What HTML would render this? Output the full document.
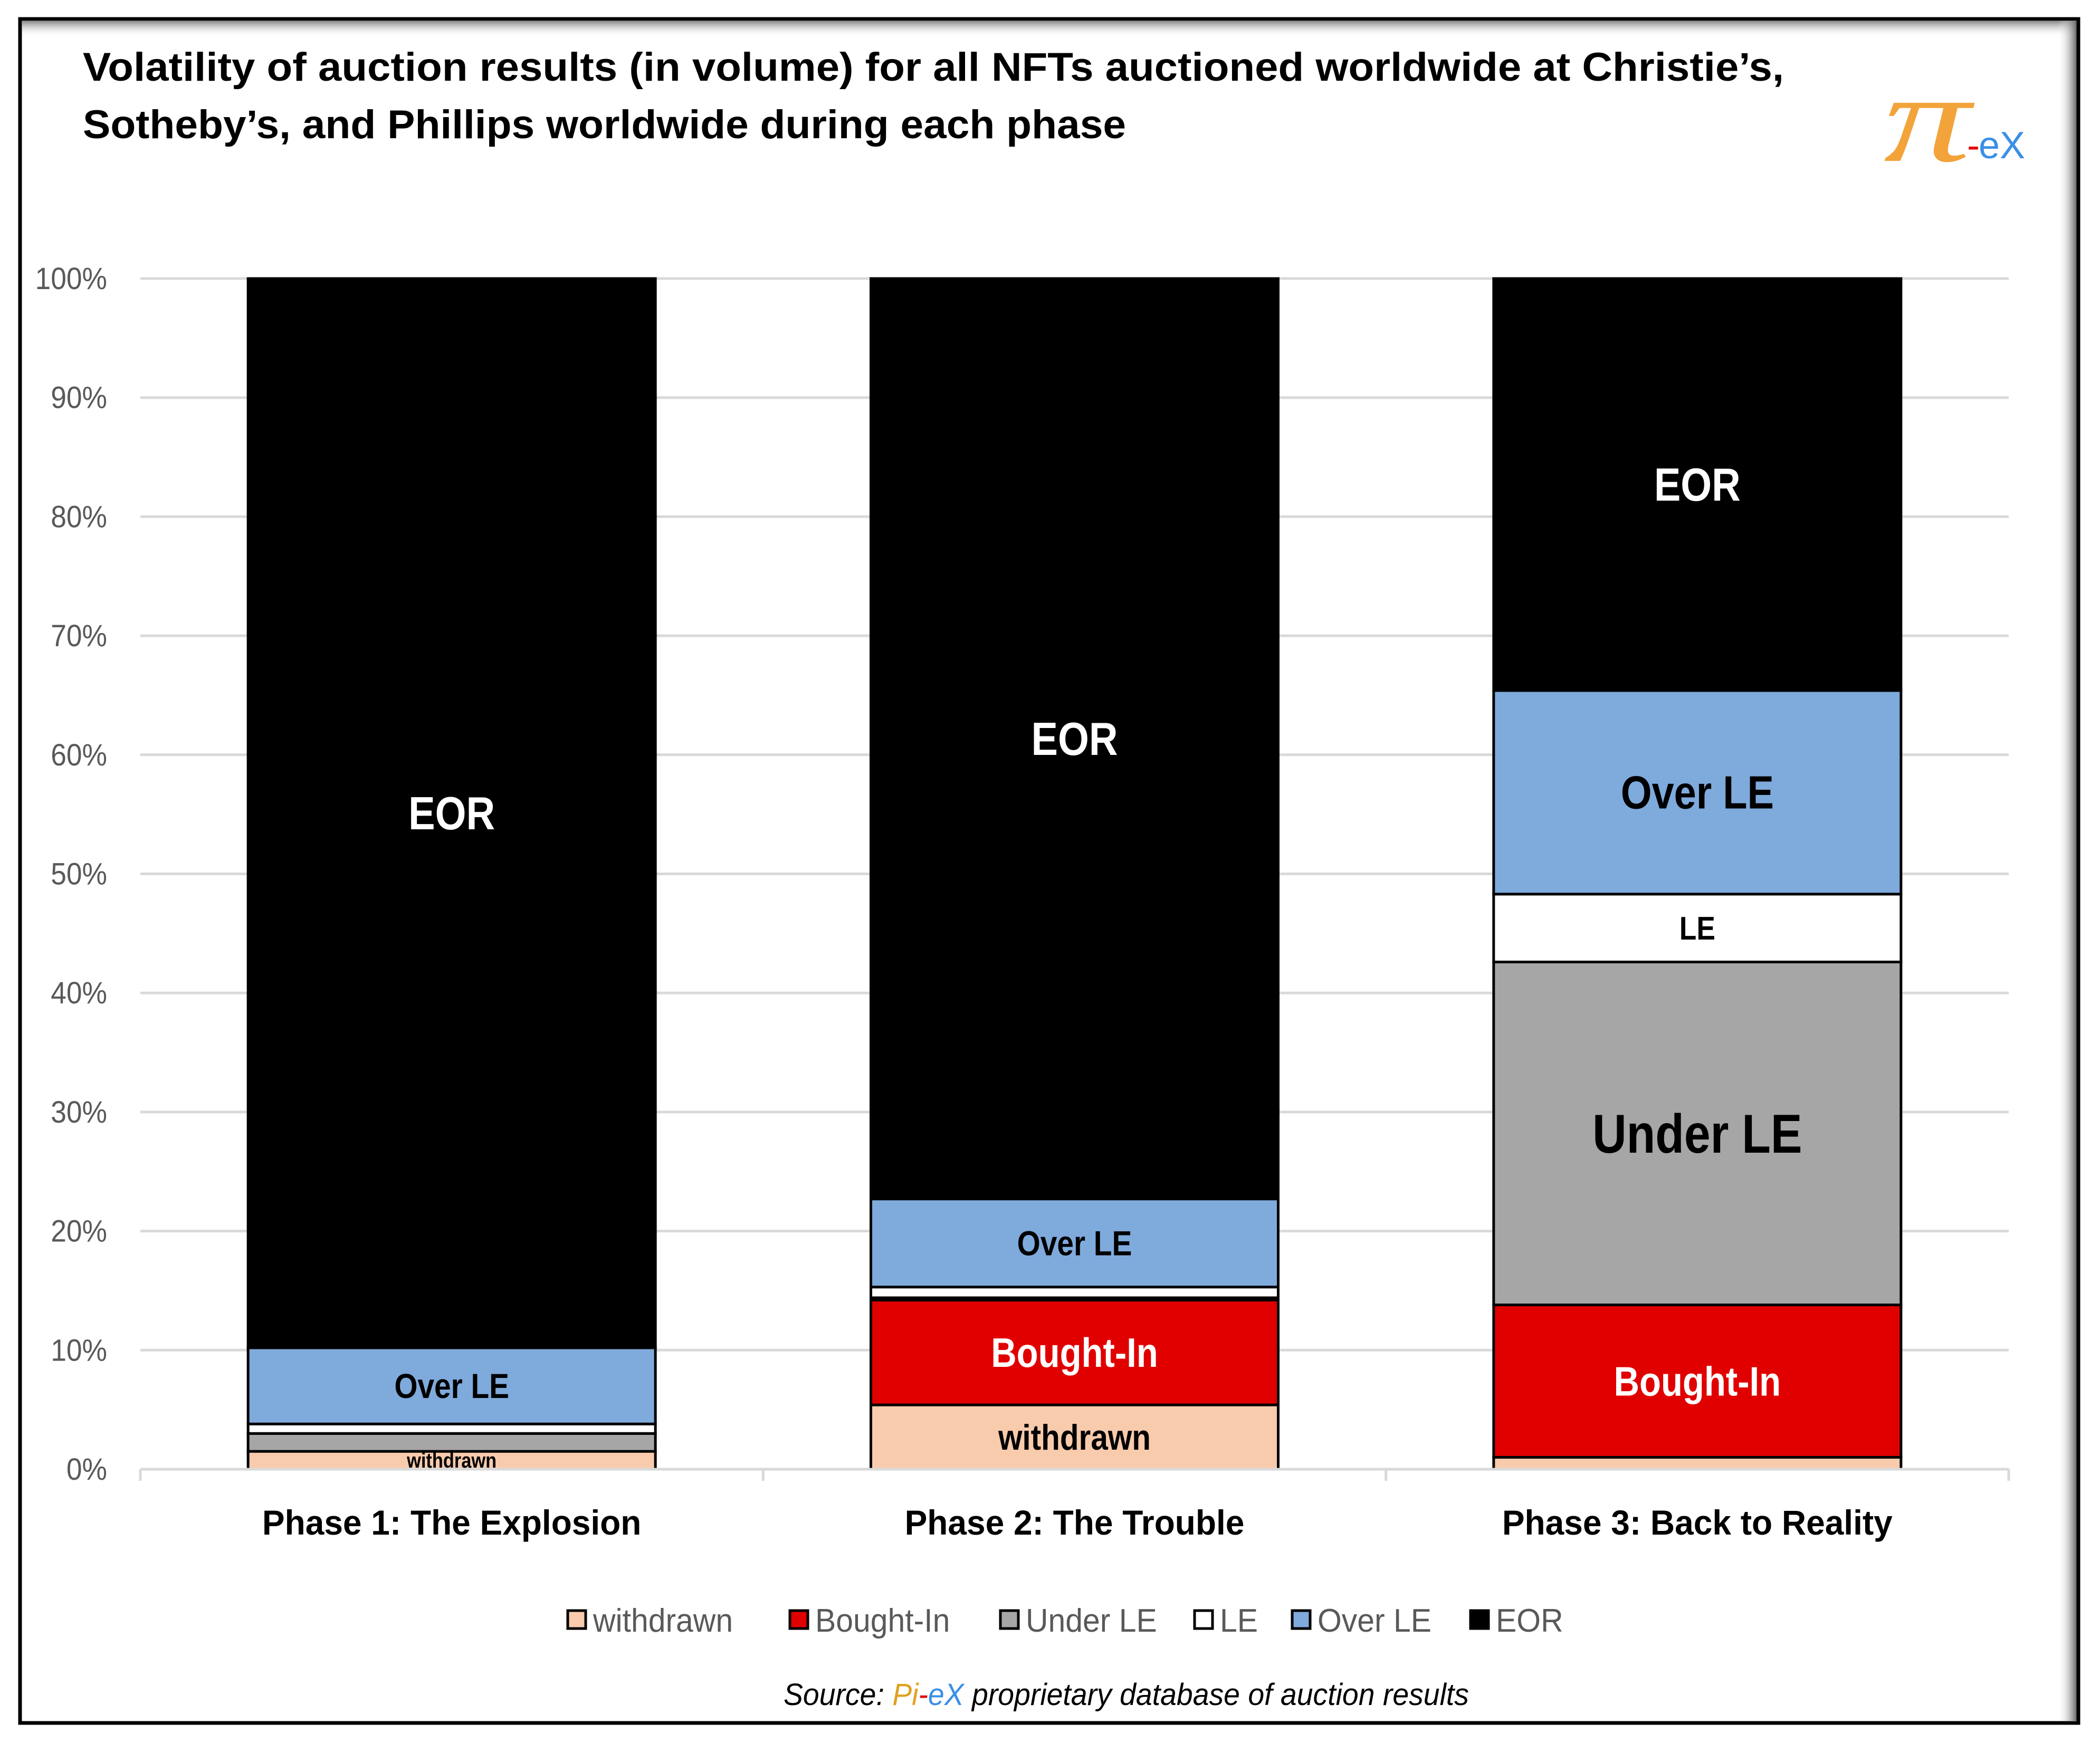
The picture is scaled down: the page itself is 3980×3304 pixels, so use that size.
<!DOCTYPE html>
<html><head><meta charset="utf-8"><style>
html,body{margin:0;padding:0;background:#fff;}
svg{display:block;}
text{font-family:"Liberation Sans",sans-serif;}
</style></head><body>
<svg id="chart" width="3980" height="3304" viewBox="0 0 3980 3304" xmlns="http://www.w3.org/2000/svg">
<defs>
<linearGradient id="shT" x1="0" y1="0" x2="0" y2="1"><stop offset="0" stop-color="#888"/><stop offset="1" stop-color="#fff" stop-opacity="0"/></linearGradient>
<linearGradient id="shR" x1="1" y1="0" x2="0" y2="0"><stop offset="0" stop-color="#666"/><stop offset="1" stop-color="#fff" stop-opacity="0"/></linearGradient>
</defs>
<rect x="0" y="0" width="3980" height="3304" fill="#fff"/>
<rect x="42" y="40" width="3894" height="30" fill="url(#shT)"/>
<rect x="3900" y="40" width="36" height="3222" fill="url(#shR)"/>
<rect x="38" y="36" width="3901" height="3230" fill="none" stroke="#000" stroke-width="7"/>
<g>
<text x="157" y="153" font-size="76" font-weight="bold" fill="#000" textLength="3224" lengthAdjust="spacingAndGlyphs">Volatility of auction results (in volume) for all NFTs auctioned worldwide at Christie’s,</text>
<text x="157" y="262" font-size="76" font-weight="bold" fill="#000" textLength="1977" lengthAdjust="spacingAndGlyphs">Sotheby’s, and Phillips worldwide during each phase</text>
</g>
<g>
<text x="3570" y="305" font-size="240" font-style="italic" font-weight="normal" fill="#F2A33A" style="font-family:'Liberation Serif',serif" textLength="165" lengthAdjust="spacingAndGlyphs">π</text>
<text x="3728" y="300" font-size="72" fill="#E00000">-</text>
<text x="3750" y="300" font-size="72" fill="#3A8FE8">eX</text>
</g>
<g id="grid"></g>
<g id="yticks"></g>
<g id="bars"></g>
<g id="xaxis"></g>
<g id="legend"></g>
<text x="1485" y="3232" font-size="58" font-style="italic" fill="#000" textLength="1299" lengthAdjust="spacingAndGlyphs">Source: <tspan fill="#E0A020">Pi</tspan><tspan fill="#E00000">-</tspan><tspan fill="#3A8FE8">eX</tspan> proprietary database of auction results</text>
</svg>
<script>
const categories = ["Phase 1: The Explosion", "Phase 2: The Trouble", "Phase 3: Back to Reality"];
const seriesNames = ["withdrawn", "Bought-In", "Under LE", "LE", "Over LE", "EOR"];
const withdrawn = [1.5, 5.4, 1.0];
const boughtIn = [0, 8.8, 12.8];
const underLE = [1.5, 0.2, 28.8];
const le = [0.8, 0.9, 5.7];
const overLE = [6.4, 7.4, 17.1];
const eor = [89.8, 77.3, 34.6];
const yTicks = ["0%","10%","20%","30%","40%","50%","60%","70%","80%","90%","100%"];
const colors = ["#F8CBAD","#E00000","#A6A6A6","#FFFFFF","#7FAADC","#000000"];
const labelColors = ["#000","#fff","#000","#000","#000","#fff"];
const labelSizes = [[40,68,0],[0,78,78],[0,0,104],[0,0,62],[66,66,88],[88,88,88]];

const NS = "http://www.w3.org/2000/svg";
const X0 = 266, X1 = 3807, Y0 = 2785, Y100 = 528;
const bandW = (X1 - X0) / categories.length, barW = 772;
const yScale = v => Y0 - (Y0 - Y100) * v / 100;
const xCenter = i => X0 + bandW * (i + 0.5);
function mk(tag, attrs, parent){const e=document.createElementNS(NS,tag);for(const k in attrs)e.setAttribute(k,attrs[k]);parent.appendChild(e);return e;}

const grid = document.getElementById("grid"), yt = document.getElementById("yticks");
yTicks.forEach((t,i)=>{
  const v = i*10, y = yScale(v);
  const l = mk("line",{x1:X0,x2:X1,y1:y,y2:y,stroke:"#D9D9D9","stroke-width":5},grid);
  
  
  const tx = mk("text",{x:203,y:y+20,"font-size":58,fill:"#595959","text-anchor":"end",transform:`translate(203,0) scale(0.92,1) translate(-203,0)`},yt);
  tx.textContent = t;
  
  
});

const series = [withdrawn, boughtIn, underLE, le, overLE, eor];
const barsG = document.getElementById("bars");
categories.forEach((c,i)=>{
  const g = mk("g",{},barsG);
  
  
  let cum = 0;
  const xl = xCenter(i) - barW/2;
  series.forEach((s,k)=>{
    const v = s[i]; if(v<=0){return;}
    const yTop = yScale(cum+v), yBot = yScale(cum);
    const r = mk("rect",{x:xl,y:yTop,width:barW,height:yBot-yTop,fill:colors[k],stroke:"#000","stroke-width":5},g);
    
    
    const fs = labelSizes[k][i];
    if(fs>0){
      const cx = xCenter(i), cy = (yTop+yBot)/2 + fs*0.35;
      const t = mk("text",{x:cx,y:cy,"font-size":fs,"font-weight":"bold",fill:labelColors[k],"text-anchor":"middle",transform:`translate(${cx},0) scale(0.86,1) translate(${-cx},0)`},g);
      t.textContent = seriesNames[k];
      
      
    }
    cum += v;
  });
});

const xa = document.getElementById("xaxis");
const ax = mk("line",{x1:X0,x2:X1,y1:Y0,y2:Y0,stroke:"#D9D9D9","stroke-width":5},xa);


for(let i=0;i<=categories.length;i++){
  const x = X0 + bandW*i;
  const tk = mk("line",{x1:x,x2:x,y1:Y0,y2:Y0+22,stroke:"#D9D9D9","stroke-width":5},xa);
  
  
}
categories.forEach((c,i)=>{
  const cx = xCenter(i);
  const t = mk("text",{x:cx,y:2909,"font-size":66,"font-weight":"bold",fill:"#000","text-anchor":"middle",transform:`translate(${cx},0) scale(0.97,1) translate(${-cx},0)`},xa);
  t.textContent = c;
  
  
});

const lg = document.getElementById("legend");
const legX = [1076, 1497, 1896, 2264, 2449, 2787];
seriesNames.forEach((n,k)=>{
  const g = mk("g",{},lg);
  
  
  const sq = mk("rect",{x:legX[k],y:3053,width:34,height:34,fill:colors[k],stroke:"#000","stroke-width":5},g);
  
  
  const tx0 = legX[k]+48;
  const t = mk("text",{x:tx0,y:3093,"font-size":62,fill:"#595959",transform:`translate(${tx0},0) scale(0.95,1) translate(${-tx0},0)`},g);
  t.textContent = n;
  
  
});
</script>
</body></html>
